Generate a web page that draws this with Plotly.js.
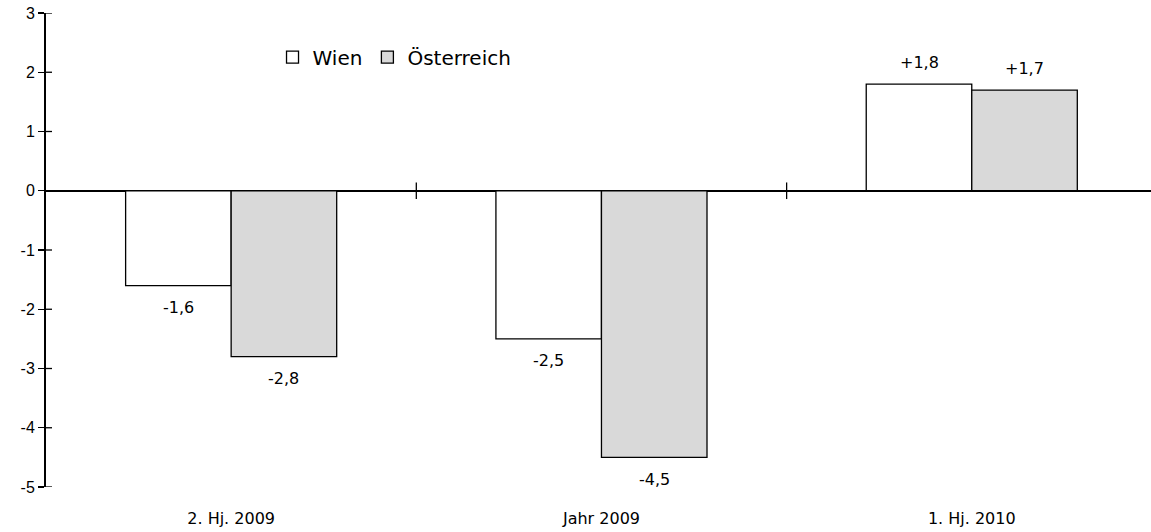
<!DOCTYPE html>
<html>
<head>
<meta charset="utf-8">
<script src="https://cdn.plot.ly/plotly-3.0.1.min.js"></script>
<style>
  html, body { margin: 0; padding: 0; background: #fff; }
  #chart { width: 1151px; height: 532px; }
</style>
</head>
<body>
<div id="chart"></div>
<script>
// Periods and percentage changes
const categories = ['2. Hj. 2009', 'Jahr 2009', '1. Hj. 2010'];
const wien = [-1.6, -2.5, 1.8];
const oesterreich = [-2.8, -4.5, 1.7];
const yTicks = [-5, -4, -3, -2, -1, 0, 1, 2, 3];

// "+1,8" / "-1,6" style labels
function fmt(v) {
  return (v > 0 ? '+' : '') + v.toFixed(1).replace('.', ',');
}

const FONT = 'DejaVu Sans, Liberation Sans, sans-serif';
const BARGAP = 0.43;
const barW = (1 - BARGAP) / 2;          // width of one bar in category units

const traces = [
  {
    type: 'bar', name: 'Wien', x: categories, y: wien,
    marker: { color: '#ffffff', line: { color: '#000', width: 1.3 } },
    hoverinfo: 'skip'
  },
  {
    type: 'bar', name: 'Österreich', x: categories, y: oesterreich,
    marker: { color: '#d9d9d9', line: { color: '#000', width: 1.3 } },
    hoverinfo: 'skip'
  }
];

// Value labels just beyond the end of each bar
const annotations = [];
[wien, oesterreich].forEach((series, s) => {
  const off = (s === 0 ? -1 : 1) * barW / 2;
  series.forEach((v, i) => {
    annotations.push({
      xref: 'x', yref: 'y', x: i + off, y: v,
      text: fmt(v), showarrow: false,
      yanchor: 'middle', yshift: v >= 0 ? 22 : -22,
      font: { family: FONT, size: 16, color: '#000' }
    });
  });
});

// Short cross marks on the zero line between the periods
const shapes = categories.slice(1).map((c, i) => ({
  type: 'line', xref: 'x', yref: 'y',
  x0: i + 0.5, x1: i + 0.5, y0: -0.14, y1: 0.14,
  line: { color: '#000', width: 1.3 }
}));
// Inner half of the y tick crosses
yTicks.forEach(t => shapes.push({
  type: 'line', xref: 'paper', yref: 'y',
  x0: 0, x1: 6 / 1105, y0: t, y1: t,
  line: { color: '#000', width: 1.3 }
}));

const layout = {
  width: 1151, height: 532,
  margin: { l: 46, r: 0, t: 13, b: 45 },
  paper_bgcolor: '#fff', plot_bgcolor: '#fff',
  showlegend: true,
  barmode: 'group', bargap: BARGAP, bargroupgap: 0,
  font: { family: FONT, color: '#000' },
  legend: {
    orientation: 'h', x: 0.205, xanchor: 'left', y: 0.907, yanchor: 'middle',
    font: { size: 20, color: '#000' }, bgcolor: 'rgba(0,0,0,0)', itemclick: false
  },
  xaxis: {
    type: 'category', range: [-0.5, 2.484],
    showline: false, showgrid: false, zeroline: false, ticks: '',
    tickfont: { family: FONT, size: 16, color: '#000' },
    ticklabelstandoff: 20, fixedrange: true
  },
  yaxis: {
    range: [-5, 3], tickvals: yTicks, ticktext: yTicks.map(String),
    ticksuffix: '\u00a0\u00a0',
    showline: true, linecolor: '#000', linewidth: 2,
    ticks: 'outside', ticklen: 6, tickwidth: 1.3, tickcolor: '#000',
    showgrid: false, zeroline: true, zerolinecolor: '#000', zerolinewidth: 2,
    tickfont: { family: 'Liberation Sans, Arial, sans-serif', size: 16, color: '#000' },
    fixedrange: true
  },
  annotations: annotations,
  shapes: shapes
};

Plotly.newPlot('chart', traces, layout, { displayModeBar: false, staticPlot: true });
</script>
</body>
</html>
